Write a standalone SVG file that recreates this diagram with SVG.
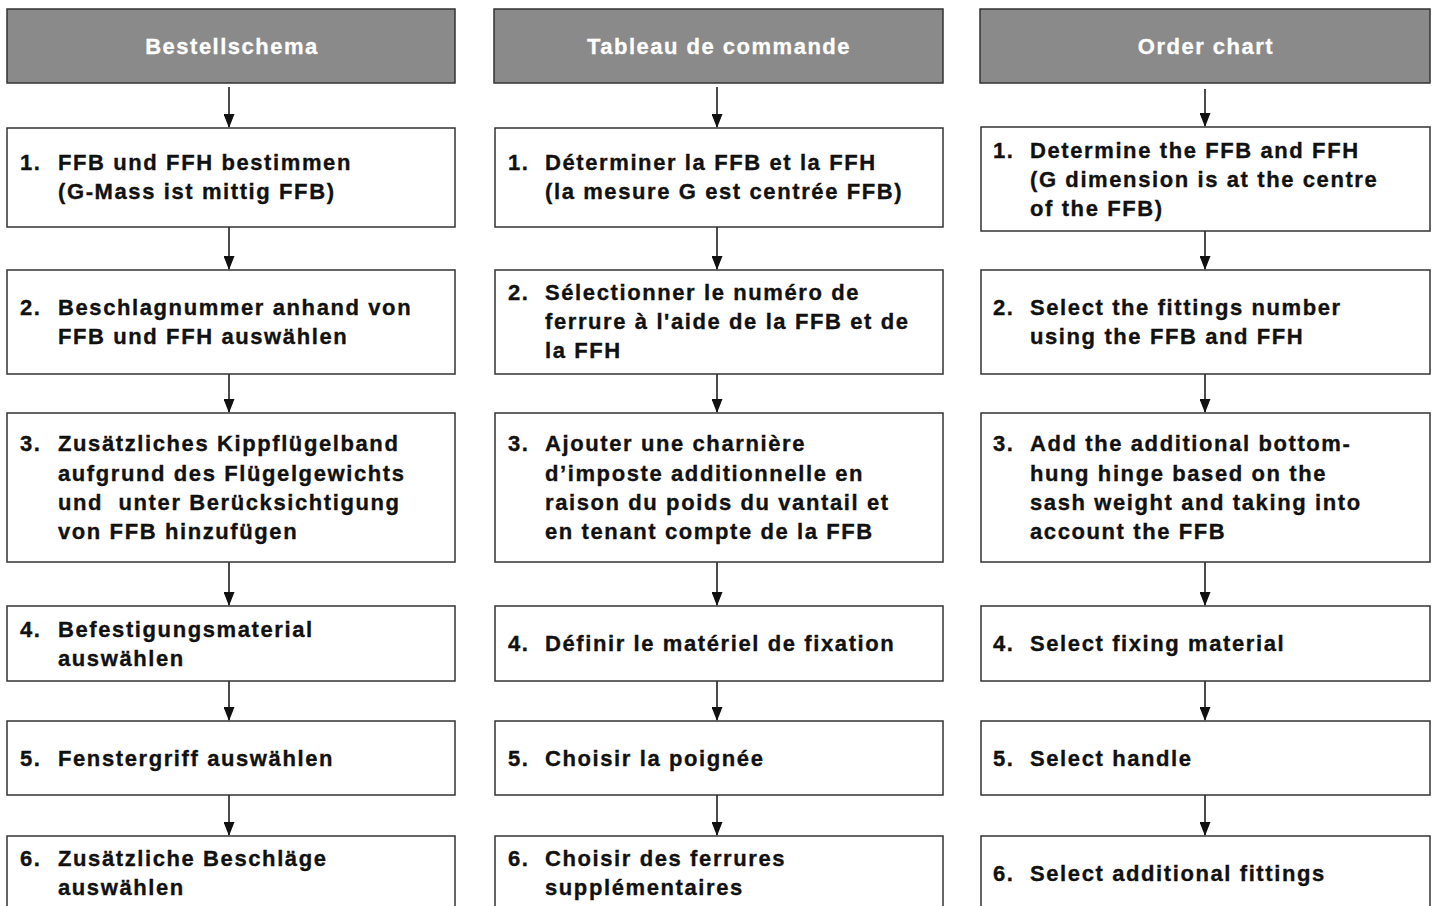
<svg xmlns="http://www.w3.org/2000/svg" width="1435" height="906" viewBox="0 0 1435 906">
<style>
.hdr{fill:#8a8a8a;stroke:#333;stroke-width:1.5}
.box{fill:#fff;stroke:#333;stroke-width:1.5}
.ht{font-family:"Liberation Sans",Arial,sans-serif;font-weight:bold;font-size:22px;letter-spacing:1.5px;fill:#fff;stroke:#fff;stroke-width:0.3;text-anchor:middle}
.t{font-family:"Liberation Sans",Arial,sans-serif;font-weight:bold;font-size:22px;letter-spacing:1.6px;fill:#111;stroke:#111;stroke-width:0.35}
.c{stroke:#111;stroke-width:1.5;fill:none;marker-end:url(#ah)}
</style>
<defs>
<marker id="ah" viewBox="0 0 14 11" refX="13" refY="5.5" markerWidth="14" markerHeight="11" orient="auto" markerUnits="userSpaceOnUse">
<path d="M0,0 L14,5.5 L0,11 z" fill="#111"/>
</marker>
</defs>
<g id="connectors">
<line class="c" x1="229" y1="87" x2="229" y2="127"/>
<line class="c" x1="229" y1="227" x2="229" y2="269"/>
<line class="c" x1="229" y1="374" x2="229" y2="412"/>
<line class="c" x1="229" y1="562" x2="229" y2="605"/>
<line class="c" x1="229" y1="681" x2="229" y2="720"/>
<line class="c" x1="229" y1="795" x2="229" y2="835"/>
<line class="c" x1="717" y1="87" x2="717" y2="127"/>
<line class="c" x1="717" y1="227" x2="717" y2="269"/>
<line class="c" x1="717" y1="374" x2="717" y2="412"/>
<line class="c" x1="717" y1="562" x2="717" y2="605"/>
<line class="c" x1="717" y1="681" x2="717" y2="720"/>
<line class="c" x1="717" y1="795" x2="717" y2="835"/>
<line class="c" x1="1205" y1="89" x2="1205" y2="126"/>
<line class="c" x1="1205" y1="231" x2="1205" y2="269"/>
<line class="c" x1="1205" y1="374" x2="1205" y2="412"/>
<line class="c" x1="1205" y1="562" x2="1205" y2="605"/>
<line class="c" x1="1205" y1="681" x2="1205" y2="720"/>
<line class="c" x1="1205" y1="795" x2="1205" y2="835"/>
</g>
<g id="h1"><rect class="hdr" x="7" y="9" width="448" height="74"/><text class="ht" x="232" y="54">Bestellschema</text></g>
<g id="h2"><rect class="hdr" x="494" y="9" width="449" height="74"/><text class="ht" x="719" y="54">Tableau de commande</text></g>
<g id="h3"><rect class="hdr" x="980" y="9" width="450" height="74"/><text class="ht" x="1206" y="54">Order chart</text></g>

<g id="d1"><rect class="box" x="7" y="128" width="448" height="99"/><text class="t" x="20" y="170">1.</text><text class="t"><tspan x="58" y="170">FFB und FFH bestimmen</tspan><tspan x="58" y="199">(G-Mass ist mittig FFB)</tspan></text></g>
<g id="d2"><rect class="box" x="7" y="270" width="448" height="104"/><text class="t" x="20" y="315">2.</text><text class="t"><tspan x="58" y="315">Beschlagnummer anhand von</tspan><tspan x="58" y="344">FFB und FFH auswählen</tspan></text></g>
<g id="d3"><rect class="box" x="7" y="413" width="448" height="149"/><text class="t" x="20" y="451">3.</text><text class="t" xml:space="preserve"><tspan x="58" y="451">Zusätzliches Kippflügelband</tspan><tspan x="58" y="481">aufgrund des Flügelgewichts</tspan><tspan x="58" y="510">und  unter Berücksichtigung</tspan><tspan x="58" y="539">von FFB hinzufügen</tspan></text></g>
<g id="d4"><rect class="box" x="7" y="606" width="448" height="75"/><text class="t" x="20" y="637">4.</text><text class="t"><tspan x="58" y="637">Befestigungsmaterial</tspan><tspan x="58" y="666">auswählen</tspan></text></g>
<g id="d5"><rect class="box" x="7" y="721" width="448" height="74"/><text class="t" x="20" y="766">5.</text><text class="t" x="58" y="766">Fenstergriff auswählen</text></g>
<g id="d6"><rect class="box" x="7" y="836" width="448" height="90"/><text class="t" x="20" y="866">6.</text><text class="t"><tspan x="58" y="866">Zusätzliche Beschläge</tspan><tspan x="58" y="895">auswählen</tspan></text></g>

<g id="f1"><rect class="box" x="495" y="128" width="448" height="99"/><text class="t" x="508" y="170">1.</text><text class="t"><tspan x="545" y="170">Déterminer la FFB et la FFH</tspan><tspan x="545" y="199">(la mesure G est centrée FFB)</tspan></text></g>
<g id="f2"><rect class="box" x="495" y="270" width="448" height="104"/><text class="t" x="508" y="300">2.</text><text class="t"><tspan x="545" y="300">Sélectionner le numéro de</tspan><tspan x="545" y="329">ferrure à l'aide de la FFB et de</tspan><tspan x="545" y="358">la FFH</tspan></text></g>
<g id="f3"><rect class="box" x="495" y="413" width="448" height="149"/><text class="t" x="508" y="451">3.</text><text class="t"><tspan x="545" y="451">Ajouter une charnière</tspan><tspan x="545" y="481">d’imposte additionnelle en</tspan><tspan x="545" y="510">raison du poids du vantail et</tspan><tspan x="545" y="539">en tenant compte de la FFB</tspan></text></g>
<g id="f4"><rect class="box" x="495" y="606" width="448" height="75"/><text class="t" x="508" y="651">4.</text><text class="t" x="545" y="651">Définir le matériel de fixation</text></g>
<g id="f5"><rect class="box" x="495" y="721" width="448" height="74"/><text class="t" x="508" y="766">5.</text><text class="t" x="545" y="766">Choisir la poignée</text></g>
<g id="f6"><rect class="box" x="495" y="836" width="448" height="90"/><text class="t" x="508" y="866">6.</text><text class="t"><tspan x="545" y="866">Choisir des ferrures</tspan><tspan x="545" y="895">supplémentaires</tspan></text></g>

<g id="e1"><rect class="box" x="981" y="127" width="449" height="104"/><text class="t" x="993" y="158">1.</text><text class="t"><tspan x="1030" y="158">Determine the FFB and FFH</tspan><tspan x="1030" y="187">(G dimension is at the centre</tspan><tspan x="1030" y="216">of the FFB)</tspan></text></g>
<g id="e2"><rect class="box" x="981" y="270" width="449" height="104"/><text class="t" x="993" y="315">2.</text><text class="t"><tspan x="1030" y="315">Select the fittings number</tspan><tspan x="1030" y="344">using the FFB and FFH</tspan></text></g>
<g id="e3"><rect class="box" x="981" y="413" width="449" height="149"/><text class="t" x="993" y="451">3.</text><text class="t"><tspan x="1030" y="451">Add the additional bottom-</tspan><tspan x="1030" y="481">hung hinge based on the</tspan><tspan x="1030" y="510">sash weight and taking into</tspan><tspan x="1030" y="539">account the FFB</tspan></text></g>
<g id="e4"><rect class="box" x="981" y="606" width="449" height="75"/><text class="t" x="993" y="651">4.</text><text class="t" x="1030" y="651">Select fixing material</text></g>
<g id="e5"><rect class="box" x="981" y="721" width="449" height="74"/><text class="t" x="993" y="766">5.</text><text class="t" x="1030" y="766">Select handle</text></g>
<g id="e6"><rect class="box" x="981" y="836" width="449" height="90"/><text class="t" x="993" y="881">6.</text><text class="t" x="1030" y="881">Select additional fittings</text></g>
</svg>
